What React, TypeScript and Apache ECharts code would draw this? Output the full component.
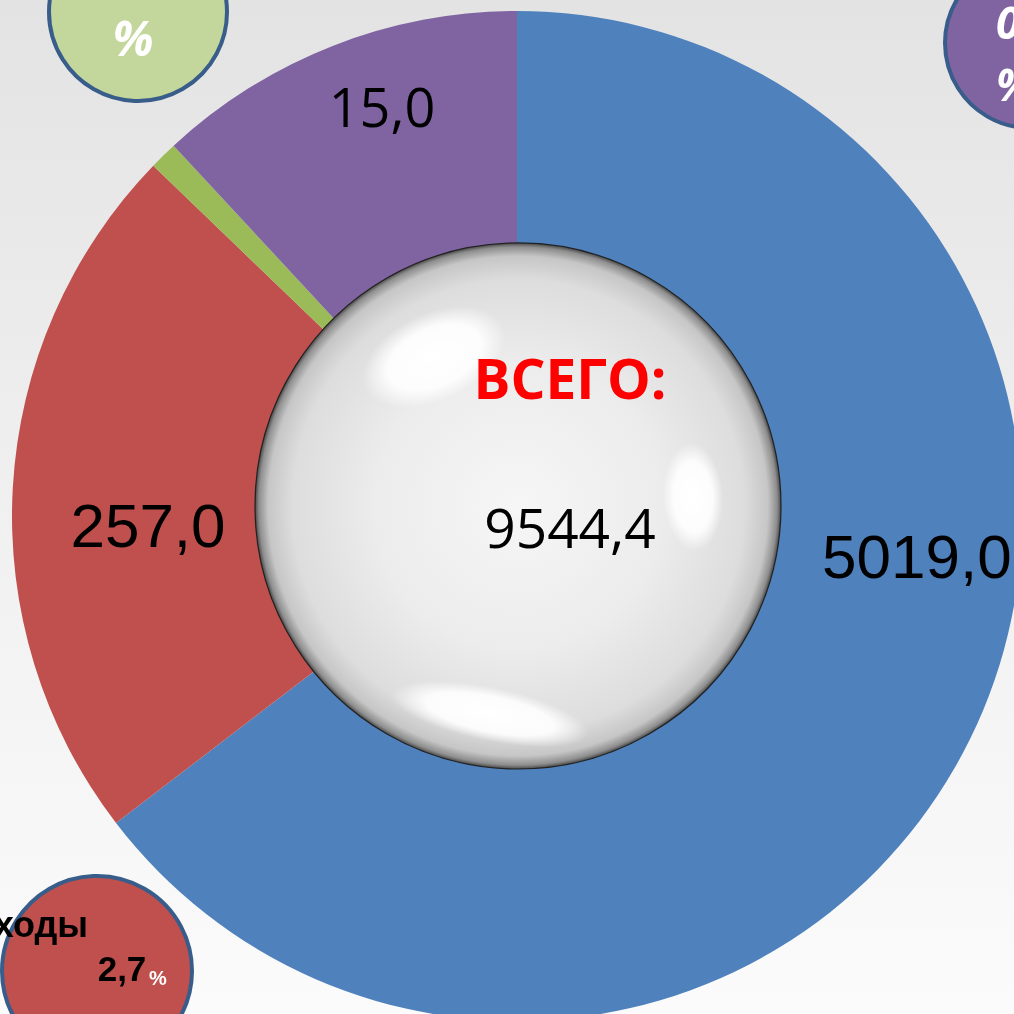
import React, { useEffect, useRef } from 'react';
import * as echarts from 'echarts';

// Slices, clockwise from 12 o'clock; angular shares (%)
const categories = ['Сектор 1', 'Сектор 2', 'Сектор 3', 'Сектор 4'];
const shares = [64.6, 22.6, 0.9, 11.9];
const sliceLabels = ['5019,0', '257,0', '', '15,0'];
const colors = ['#4f81bd', '#c0504d', '#9bbb59', '#8064a2'];

const totalTitle = 'ВСЕГО:';
const totalValue = '9544,4';

const greenBadge = ['0,1', '%'];
const purpleBadge = ['0,2', '%'];
const redBadgeTitle = 'ходы';
const redBadgeValue = '2,7';
const redBadgeUnit = '%';

const ARIAL = '"Liberation Sans", Arial, sans-serif';
const CALIBRI = '"Open Sans", "Noto Sans", sans-serif';

export default function App() {
  const ref = useRef<HTMLDivElement>(null);

  useEffect(() => {
    document.body.style.margin = '0';
    const chart = echarts.init(ref.current as HTMLDivElement, null, { renderer: 'svg' });

    const labelPlace = [
      { x: 822, y: 556, align: 'left' },
      { x: 148, y: 525, align: 'center' },
      { x: 330, y: 240, align: 'center' },
      { x: 382, y: 106, align: 'center' },
    ];
    const labelFonts = [ARIAL, ARIAL, ARIAL, CALIBRI];
    const labelSizes = [62, 62, 62, 54];

    const white = (a: number) => `rgba(255,255,255,${a})`;
    const glow = (a: number) => ({
      type: 'radial', x: 0.5, y: 0.5, r: 0.5,
      colorStops: [
        { offset: 0, color: white(a) },
        { offset: 0.65, color: white(a * 0.9) },
        { offset: 1, color: white(0) },
      ],
    });

    const badgeStroke = '#385d8a';

    chart.setOption({
      animation: false,
      graphic: [
        {
          type: 'rect', z: -100, silent: true,
          shape: { x: 0, y: 0, width: 1014, height: 1014 },
          style: {
            fill: {
              type: 'linear', x: 0, y: 0, x2: 0, y2: 1,
              colorStops: [
                { offset: 0, color: '#e3e3e3' },
                { offset: 0.5, color: '#f0f0f0' },
                { offset: 1, color: '#fbfbfb' },
              ],
            },
          },
        },
        // green badge top-left
        {
          type: 'circle', z: 50, shape: { cx: 138, cy: 12, r: 89 },
          style: { fill: '#c3d69b', stroke: badgeStroke, lineWidth: 4 },
        },
        {
          type: 'text', z: 51,
          style: { text: greenBadge[0], x: 133, y: -24, fill: '#ffffff', font: `italic bold 44px ${CALIBRI}`, textAlign: 'center', textVerticalAlign: 'middle' },
        },
        {
          type: 'text', z: 51,
          style: { text: greenBadge[1], x: 133, y: 37, fill: '#ffffff', font: `italic bold 48px ${CALIBRI}`, textAlign: 'center', textVerticalAlign: 'middle' },
        },
        // purple badge top-right
        {
          type: 'circle', z: 50, shape: { cx: 1030, cy: 43, r: 85 },
          style: { fill: '#8064a2', stroke: badgeStroke, lineWidth: 4 },
        },
        {
          type: 'text', z: 51,
          style: { text: purpleBadge[0], x: 996, y: 22, fill: '#ffffff', font: `italic bold 44px ${CALIBRI}`, textAlign: 'left', textVerticalAlign: 'middle' },
        },
        {
          type: 'text', z: 51,
          style: { text: purpleBadge[1], x: 996, y: 84, fill: '#ffffff', font: `italic bold 44px ${CALIBRI}`, textAlign: 'left', textVerticalAlign: 'middle' },
        },
        // red badge bottom-left
        {
          type: 'circle', z: 50, shape: { cx: 97, cy: 971, r: 95 },
          style: { fill: '#c0504d', stroke: badgeStroke, lineWidth: 4 },
        },
        {
          type: 'text', z: 51,
          style: { text: redBadgeTitle, x: 88, y: 924, fill: '#000000', font: `bold 36px ${ARIAL}`, textAlign: 'right', textVerticalAlign: 'middle' },
        },
        {
          type: 'text', z: 51,
          style: { text: redBadgeValue, x: 122, y: 968, fill: '#000000', font: `bold 35px ${ARIAL}`, textAlign: 'center', textVerticalAlign: 'middle' },
        },
        {
          type: 'text', z: 51,
          style: { text: redBadgeUnit, x: 158, y: 978, fill: '#ffffff', font: `bold 20px ${ARIAL}`, textAlign: 'center', textVerticalAlign: 'middle' },
        },
        // central sphere
        {
          type: 'circle', z: 100, shape: { cx: 518, cy: 506, r: 263 },
          style: {
            fill: {
              type: 'radial', x: 0.5, y: 0.5, r: 0.5,
              colorStops: [
                { offset: 0, color: '#f6f6f6' },
                { offset: 0.55, color: '#ececec' },
                { offset: 0.86, color: '#dddddd' },
                { offset: 0.95, color: '#c6c6c6' },
                { offset: 0.985, color: '#8e8e8e' },
                { offset: 1, color: '#4a4a4a' },
              ],
            },
            stroke: '#222222', lineWidth: 1.2,
          },
        },
        {
          type: 'ellipse', z: 101, x: 434, y: 357, rotation: 0.42,
          shape: { cx: 0, cy: 0, rx: 76, ry: 44 }, style: { fill: glow(1) },
        },
        {
          type: 'ellipse', z: 101, x: 693, y: 497, rotation: 0.05,
          shape: { cx: 0, cy: 0, rx: 30, ry: 54 }, style: { fill: glow(1) },
        },
        {
          type: 'ellipse', z: 101, x: 490, y: 714, rotation: -0.2,
          shape: { cx: 0, cy: 0, rx: 100, ry: 27 }, style: { fill: glow(1) },
        },
        {
          type: 'text', z: 110,
          style: { text: totalTitle, x: 570, y: 377, fill: '#ff0000', font: `bold 55px ${CALIBRI}`, textAlign: 'center', textVerticalAlign: 'middle' },
        },
        {
          type: 'text', z: 110,
          style: { text: totalValue, x: 570, y: 526, fill: '#000000', font: `55px ${CALIBRI}`, textAlign: 'center', textVerticalAlign: 'middle' },
        },
      ],
      series: [
        {
          type: 'pie',
          center: [517, 516],
          radius: [250, 505],
          startAngle: 90,
          clockwise: true,
          avoidLabelOverlap: false,
          silent: true,
          labelLine: { show: false },
          data: categories.map((name, i) => ({
            name,
            value: shares[i],
            itemStyle: { color: colors[i] },
            label: {
              show: sliceLabels[i] !== '',
              position: 'inside',
              formatter: () => sliceLabels[i],
              color: '#000000',
              fontFamily: labelFonts[i],
              fontSize: labelSizes[i],
            },
          })),
          labelLayout: (p: any) => {
            const pl = labelPlace[p.dataIndex];
            return { x: pl.x, y: pl.y, align: pl.align, verticalAlign: 'middle' };
          },
        },
      ],
    });

    return () => chart.dispose();
  }, []);

  return (
    <div
      ref={ref}
      style={{ position: 'fixed', left: 0, top: 0, width: 1014, height: 1014 }}
    />
  );
}
